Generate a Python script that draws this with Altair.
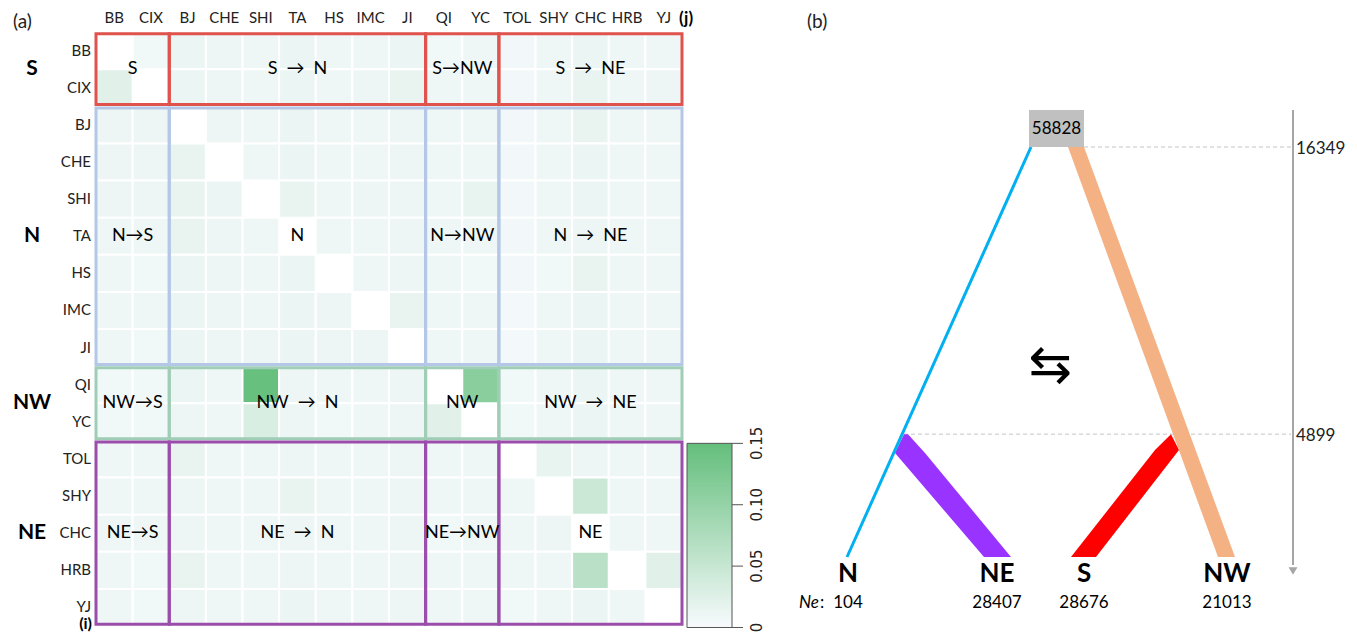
import altair as alt
import pandas as pd

# ---------------- panel (a) data ----------------
pops = ["BB", "CIX", "BJ", "CHE", "SHI", "TA", "HS", "IMC", "JI",
        "QI", "YC", "TOL", "SHY", "CHC", "HRB", "YJ"]
group_names = ["S", "N", "NW", "NE"]
group_bounds = [0, 2, 9, 11, 16]
group_colors = ["#e0534d", "#b4c7e7", "#a0cdb6", "#9a4daa"]
SP = "\u2002"
block_labels = [
    ["S", f"S{SP}\u2192{SP}N", "S\u2192NW", f"S{SP}\u2192{SP}NE"],
    ["N\u2192S", "N", "N\u2192NW", f"N{SP}\u2192{SP}NE"],
    ["NW\u2192S", f"NW{SP}\u2192{SP}N", "NW", f"NW{SP}\u2192{SP}NE"],
    ["NE\u2192S", f"NE{SP}\u2192{SP}N", "NE\u2192NW", "NE"],
]
# migration rate matrix, rows = source (i), columns = target (j); diagonal empty
M = [
    [None, .006, .012, .010, .008, .012, .008, .008, .012, .006, .008, .005, .008, .012, .008, .008],
    [.022, None, .012, .010, .008, .012, .008, .010, .014, .008, .008, .005, .008, .014, .008, .010],
    [.010, .010, None, .010, .008, .012, .008, .008, .010, .008, .008, .005, .008, .014, .008, .008],
    [.010, .010, .014, None, .008, .012, .008, .008, .010, .008, .008, .005, .008, .012, .008, .008],
    [.010, .010, .014, .012, None, .014, .008, .010, .010, .008, .016, .005, .008, .012, .008, .008],
    [.008, .008, .014, .010, .008, None, .008, .008, .010, .008, .008, .005, .008, .010, .008, .008],
    [.008, .006, .012, .010, .008, .012, None, .008, .010, .008, .006, .005, .006, .014, .008, .008],
    [.008, .008, .012, .010, .008, .012, .010, None, .014, .008, .008, .004, .008, .012, .008, .008],
    [.008, .006, .012, .010, .010, .012, .010, .010, None, .008, .008, .004, .008, .012, .008, .008],
    [.006, .006, .012, .008, .145, .010, .008, .008, .010, None, .110, .006, .008, .012, .008, .008],
    [.006, .006, .010, .008, .030, .010, .006, .008, .010, .022, None, .006, .008, .012, .008, .008],
    [.008, .008, .014, .008, .008, .010, .008, .008, .010, .008, .008, None, .016, .010, .008, .008],
    [.008, .008, .010, .008, .008, .014, .008, .008, .010, .008, .008, .008, None, .045, .008, .008],
    [.008, .008, .010, .008, .008, .010, .008, .008, .010, .006, .008, .008, .010, None, .008, .008],
    [.008, .006, .014, .008, .008, .010, .008, .008, .010, .008, .008, .008, .008, .062, None, .022],
    [.008, .006, .010, .008, .008, .012, .008, .008, .010, .008, .008, .006, .008, .012, .008, None],
]
cb_max = 0.15
cb_ticks = [0, 0.05, 0.10, 0.15]
cb_tick_labels = ["0", "0.05", "0.10", "0.15"]

# ---------------- panel (b) data ----------------
tip_names = ["N", "NE", "S", "NW"]
tip_ne = ["104", "28407", "28676", "21013"]
root_ne = "58828"
t_root = 16349
t_split = 4899
# schematic layout positions of the lineages (horizontal layout units)
tip_pos = [848, 997, 1084, 1227]
blue_t = [t_root, 0]
blue_x = [1031, 847]
orange_t = [t_root, 0]
orange_xl = [1068, 1218]
orange_xr = [1084, 1235]
purple_t = [t_split, 4147, 0]
purple_xl = [904, 895, 984]
purple_xr = [908, 925, 1011]
red_t = [t_split, 4267, 0]
red_xl = [1171, 1155, 1071]
red_xr = [1171, 1179, 1096]
root_box = [1029, 1084]
axis_pos = 1293
dash_start = [1084, 904]
migr_pos = [1050, 7616]

FONT = "Lato"
H = 624

# ================= panel (a) =================
X = alt.Scale(domain=[0, 16], range=[88, 674])
Y = alt.Scale(domain=[0, 16], range=[24, 618])

heat_rows = []
for i, src in enumerate(pops):
    for j, dst in enumerate(pops):
        v = M[i][j]
        if v is None:
            continue
        heat_rows.append({"r": i, "r2": i + 1, "c": j, "c2": j + 1, "value": v,
                          "src": src, "dst": dst})
heat_df = pd.DataFrame(heat_rows)

color_scale = alt.Scale(domain=[0, cb_max], range=["#f7fafd", "#63be7b"], interpolate="rgb")

heat = alt.Chart(heat_df).mark_rect(stroke="white", strokeWidth=2).encode(
    x=alt.X("c:Q", scale=X, axis=None),
    x2="c2:Q",
    y=alt.Y("r:Q", scale=Y, axis=None),
    y2="r2:Q",
    color=alt.Color("value:Q", scale=color_scale, legend=None),
)

box_rows = []
lab_rows = []
for gi in range(4):
    for gj in range(4):
        r0, r1 = group_bounds[gi], group_bounds[gi + 1]
        c0, c1 = group_bounds[gj], group_bounds[gj + 1]
        box_rows.append({"y1": r0 + 0.045, "y2": r1 - 0.045, "x1": c0, "x2": c1,
                         "col": group_colors[gi]})
        lab_rows.append({"x": (c0 + c1) / 2, "y": (r0 + r1) / 2, "t": block_labels[gi][gj]})
box_df = pd.DataFrame(box_rows)
lab_df = pd.DataFrame(lab_rows)

boxes = alt.Chart(box_df).mark_rect(fillOpacity=0, strokeWidth=3).encode(
    x=alt.X("x1:Q", scale=X, axis=None), x2="x2:Q",
    y=alt.Y("y1:Q", scale=Y, axis=None), y2="y2:Q",
    stroke=alt.Stroke("col:N", scale=None),
)
block_text = alt.Chart(lab_df).mark_text(font=FONT, fontSize=18, color="black").encode(
    x=alt.X("x:Q", scale=X), y=alt.Y("y:Q", scale=Y), text="t:N")

col_df = pd.DataFrame({"c": [j + 0.5 for j in range(16)], "lab": pops})
col_text = alt.Chart(col_df).mark_text(font=FONT, fontSize=15, color="#222").encode(
    x=alt.X("c:Q", scale=X), y=alt.value(10), text="lab:N")
row_df = pd.DataFrame({"r": [i + 0.5 for i in range(16)], "lab": pops})
row_text = alt.Chart(row_df).mark_text(font=FONT, fontSize=15, color="#222", align="right").encode(
    x=alt.value(83), y=alt.Y("r:Q", scale=Y), text="lab:N")
grp_df = pd.DataFrame({"r": [(group_bounds[k] + group_bounds[k + 1]) / 2 for k in range(4)],
                       "lab": group_names})
grp_text = alt.Chart(grp_df).mark_text(font=FONT, fontSize=21, fontWeight="bold", color="black").encode(
    x=alt.value(24), y=alt.Y("r:Q", scale=Y), text="lab:N")

panel_a_lab = alt.Chart(pd.DataFrame({"t": ["(a)"]})).mark_text(
    font=FONT, fontSize=19, align="left", color="#222").encode(x=alt.value(5), y=alt.value(14), text="t:N")
j_lab = alt.Chart(pd.DataFrame({"t": ["(j)"]})).mark_text(
    font=FONT, fontSize=17, fontWeight="bold", align="left", color="black").encode(
    x=alt.value(671), y=alt.value(11), text="t:N")
i_lab = alt.Chart(pd.DataFrame({"t": ["(i)"]})).mark_text(
    font=FONT, fontSize=16, fontWeight="bold", align="right", baseline="bottom", color="black").encode(
    x=alt.value(84), y=alt.value(H), text="t:N")

# colour bar (drawn from the top value down, each step covering the rest of the bar)
cb_top, cb_bot = 11.08, 16.04
n_steps = 80
step = cb_max / n_steps
cb_df = pd.DataFrame({"v": [cb_max - (k + 1) * step for k in range(n_steps)]})
cbar = alt.Chart(cb_df).transform_calculate(
    ya=f"{cb_bot} - (datum.v + {step}) / {cb_max} * {cb_bot - cb_top}",
    yb=f"{cb_bot}",
).mark_rect(strokeWidth=0).encode(
    x=alt.value(679), x2=alt.value(724),
    y=alt.Y("ya:Q", scale=Y), y2="yb:Q",
    color=alt.Color("v:Q", scale=color_scale, legend=None),
)
cb_border = alt.Chart(pd.DataFrame({"a": [cb_top], "b": [cb_bot]})).mark_rect(
    fillOpacity=0, stroke="#555555", strokeWidth=1).encode(
    x=alt.value(679), x2=alt.value(724), y=alt.Y("a:Q", scale=Y), y2="b:Q")
tick_df = pd.DataFrame({"v": cb_ticks, "lab": cb_tick_labels})
cb_ticks_m = alt.Chart(tick_df).transform_calculate(
    ty=f"{cb_bot} - datum.v / {cb_max} * {cb_bot - cb_top}").mark_rule(
    color="#555555", strokeWidth=1).encode(
    x=alt.value(724), x2=alt.value(735), y=alt.Y("ty:Q", scale=Y))
cb_labels = alt.Chart(tick_df).transform_calculate(
    ty=f"{cb_bot} - datum.v / {cb_max} * {cb_bot - cb_top}").mark_text(
    font="DejaVu Sans", fontSize=15, angle=270, color="#222").encode(
    x=alt.value(749), y=alt.Y("ty:Q", scale=Y), text="lab:N")

panel_a = alt.layer(heat, boxes, block_text, col_text, row_text, grp_text,
                    panel_a_lab, j_lab, i_lab, cbar, cb_border, cb_ticks_m, cb_labels
                    ).properties(width=775, height=H)

# ================= panel (b) =================
XB = alt.Scale(domain=[783, 1343], range=[0, 560])
YB = alt.Scale(domain=[0, t_root], range=[549, 139])


def band(ts, xl, xr, color):
    df = pd.DataFrame({"t": ts, "xl": xl, "xr": xr})
    return alt.Chart(df).mark_area(orient="horizontal", color=color, opacity=1).encode(
        y=alt.Y("t:Q", scale=YB, axis=None),
        x=alt.X("xl:Q", scale=XB, axis=None),
        x2="xr:Q",
    )


dash_df = pd.DataFrame({"t": [t_root, t_split], "x1": dash_start, "x2": [axis_pos - 2, axis_pos - 2]})
dashes = alt.Chart(dash_df).mark_rule(strokeDash=[4, 3], color="#c4c4c4", strokeWidth=1).encode(
    x=alt.X("x1:Q", scale=XB, axis=None), x2="x2:Q", y=alt.Y("t:Q", scale=YB, axis=None))

purple = band(purple_t, purple_xl, purple_xr, "#9933ff")
red = band(red_t, red_xl, red_xr, "#ff0000")
orange = band(orange_t, orange_xl, orange_xr, "#f4b183")
blue = alt.Chart(pd.DataFrame({"t": blue_t, "x": blue_x})).mark_line(
    color="#00b0f0", strokeWidth=3).encode(
    x=alt.X("x:Q", scale=XB, axis=None), y=alt.Y("t:Q", scale=YB, axis=None), order="t:Q")

root = alt.Chart(pd.DataFrame({"t": [t_root], "x1": [root_box[0]], "x2": [root_box[1]]})).mark_rect(
    color="#c0c0c0", y2Offset=-37).encode(
    x=alt.X("x1:Q", scale=XB), x2="x2:Q", y=alt.Y("t:Q", scale=YB), y2="t:Q")
root_text = alt.Chart(pd.DataFrame({"t": [t_root], "x": [sum(root_box) / 2], "lab": [root_ne]})).mark_text(
    font=FONT, fontSize=17, dy=-18, color="black").encode(
    x=alt.X("x:Q", scale=XB), y=alt.Y("t:Q", scale=YB), text="lab:N")

axis_line = alt.Chart(pd.DataFrame({"x": [axis_pos], "a": [t_root], "b": [0]})).mark_rule(
    color="#a6a6a6", strokeWidth=2, yOffset=-37, y2Offset=8).encode(
    x=alt.X("x:Q", scale=XB), y=alt.Y("a:Q", scale=YB), y2="b:Q")
axis_head = alt.Chart(pd.DataFrame({"x": [axis_pos], "t": [0]})).mark_point(
    shape="triangle-down", filled=True, color="#a6a6a6", size=80, yOffset=14, opacity=1).encode(
    x=alt.X("x:Q", scale=XB), y=alt.Y("t:Q", scale=YB))
time_labels = alt.Chart(pd.DataFrame({"t": [t_root, t_split], "lab": [str(t_root), str(t_split)],
                                      "x": [axis_pos + 3, axis_pos + 3]})).mark_text(
    font=FONT, fontSize=17, align="left", dy=2, color="#222").encode(
    x=alt.X("x:Q", scale=XB), y=alt.Y("t:Q", scale=YB), text="lab:N")

tips_df = pd.DataFrame({"x": tip_pos, "t": [0] * 4, "name": tip_names, "ne": tip_ne})
tip_text = alt.Chart(tips_df).mark_text(
    font=FONT, fontSize=26, fontWeight="bold", dy=17, color="black").encode(
    x=alt.X("x:Q", scale=XB), y=alt.Y("t:Q", scale=YB), text="name:N")
ne_text = alt.Chart(tips_df).mark_text(
    font=FONT, fontSize=17, dy=46, color="black").encode(
    x=alt.X("x:Q", scale=XB), y=alt.Y("t:Q", scale=YB), text="ne:N")
ne_lab = alt.Chart(pd.DataFrame({"x": [819], "t": [0], "lab": ["Ne"]})).mark_text(
    font=FONT, fontSize=17, fontStyle="italic", align="right", dy=46, color="black").encode(
    x=alt.X("x:Q", scale=XB), y=alt.Y("t:Q", scale=YB), text="lab:N")
ne_colon = alt.Chart(pd.DataFrame({"x": [820], "t": [0], "lab": [":"]})).mark_text(
    font=FONT, fontSize=17, align="left", dy=46, color="black").encode(
    x=alt.X("x:Q", scale=XB), y=alt.Y("t:Q", scale=YB), text="lab:N")
migr = alt.Chart(pd.DataFrame({"x": [migr_pos[0]], "t": [migr_pos[1]], "lab": ["\u21c6"]})).mark_text(
    font="DejaVu Sans", fontSize=52, color="black").encode(
    x=alt.X("x:Q", scale=XB), y=alt.Y("t:Q", scale=YB), text="lab:N")
panel_b_lab = alt.Chart(pd.DataFrame({"t": ["(b)"]})).mark_text(
    font=FONT, fontSize=19, align="left", color="#222").encode(x=alt.value(24), y=alt.value(14), text="t:N")

panel_b = alt.layer(dashes, purple, red, orange, blue, root, root_text, axis_line, axis_head,
                    time_labels, tip_text, ne_text, ne_lab, ne_colon, migr, panel_b_lab
                    ).properties(width=560, height=H)

chart = alt.hconcat(panel_a, panel_b, spacing=0).resolve_scale(
    x="independent", y="independent", color="independent"
).properties(padding=0).configure_view(stroke=None)

chart.save("out.html", embed_options={"renderer": "svg", "actions": False})
